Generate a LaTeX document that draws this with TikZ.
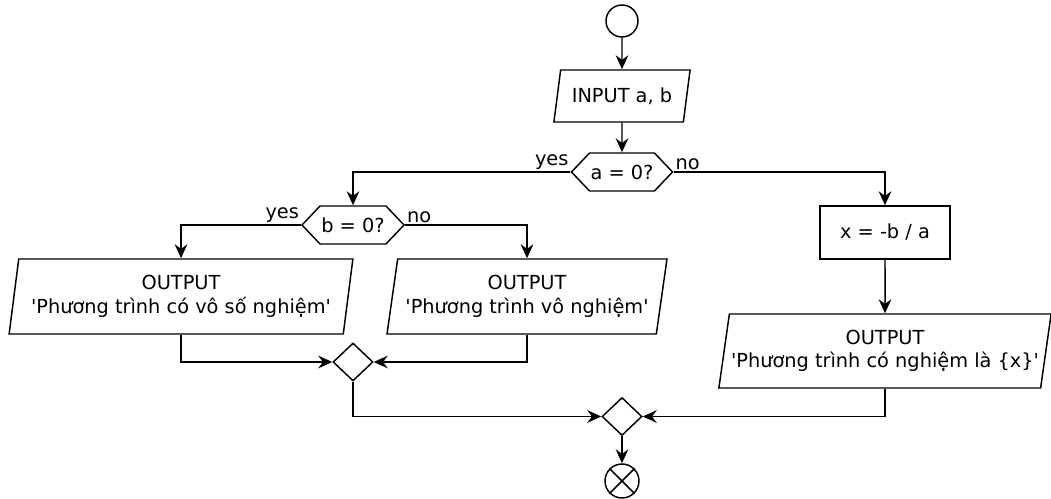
\documentclass[tikz,border=0pt]{standalone}
\usepackage{fontspec}
\setmainfont{DejaVu Sans}
\usetikzlibrary{shapes.geometric,shapes.symbols,arrows.meta}
\newcommand\sq{\textquotesingle}

\begin{document}
\begin{tikzpicture}[x=0.75pt,y=-0.75pt,line width=1.1pt,
  >={Stealth[length=10.5pt,width=9.5pt,inset=3.5pt]},
  every node/.style={font=\fontsize{14.5}{17.5}\selectfont},
  term/.style={circle,draw,inner sep=0pt},
  io/.style={trapezium,draw,trapezium stretches=true,inner sep=0pt,align=center},
  cond/.style={signal,draw,inner sep=0pt,signal to=west and east,signal pointer angle=93,
    minimum height=28.5pt},
  merge/.style={diamond,draw,inner sep=0pt,minimum width=30pt,minimum height=28.5pt},
  proc/.style={rectangle,draw,inner sep=0pt}]
\useasboundingbox (0,0) rectangle (1051,499);

\node[term, minimum size=24pt] (start) at (622,21) {};
\node[io, trapezium left angle=72, trapezium right angle=108, minimum width=102.75pt, minimum height=39pt] (input) at (622,96) {INPUT a, b};
\node[cond, minimum width=75.75pt] (isA) at (622,172) {a = 0?};
\node[cond, minimum width=76.5pt] (isB) at (353,225) {b = 0?};
\node[io, trapezium left angle=78, trapezium right angle=102, minimum width=258pt, minimum height=56.25pt] (outMany) at (181,296.5) {OUTPUT\\\sq Phương trình có vô số nghiệm\sq};
\node[io, trapezium left angle=76.5, trapezium right angle=103.5, minimum width=210pt, minimum height=56.25pt] (outNone) at (527,296.5) {OUTPUT\\\sq Phương trình vô nghiệm\sq};
\node[proc, minimum width=97.5pt, minimum height=39.75pt] (calc) at (885,232.5) {x = -b / a};
\node[io, trapezium left angle=76, trapezium right angle=104, minimum width=250pt, minimum height=55.5pt] (outOne) at (885,351) {OUTPUT\\\sq Phương trình có nghiệm là \textbraceleft x\textbraceright\sq};
\node[merge] (join1) at (353,362) {};
\node[merge] (join2) at (622,416.5) {};
\node[term, minimum size=25.5pt] (stop) at (622,481) {};
\draw (stop.north west) -- (stop.south east) (stop.north east) -- (stop.south west);

\draw[->] (start) -- (input);
\draw[->] (input) -- (isA);
\draw[->] (isA.west) node[above left, inner sep=1pt] {yes} -| (isB.north);
\draw[->] (isA.east) node[above right, inner sep=1pt] {no} -| (calc.north);
\draw[->] (isB.west) node[above left, inner sep=1pt] {yes} -| (outMany.north);
\draw[->] (isB.east) node[above right, inner sep=1pt] {no} -| (outNone.north);
\draw[->] (calc) -- (outOne);
\draw[->] (outMany.south) |- (join1.west);
\draw[->] (outNone.south) |- (join1.east);
\draw[->] (join1.south) |- (join2.west);
\draw[->] (outOne.south) |- (join2.east);
\draw[->] (join2) -- (stop);

\end{tikzpicture}
\end{document}
